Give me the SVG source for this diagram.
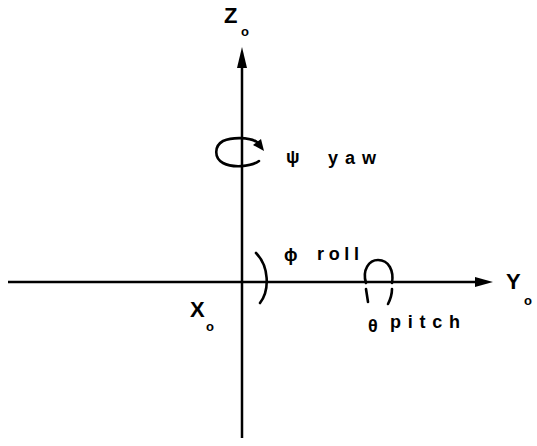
<svg xmlns="http://www.w3.org/2000/svg" width="537" height="446" viewBox="0 0 537 446">
<style>
.ax{stroke:#000;stroke-width:2.5;fill:none}
.rot{stroke:#000;stroke-width:2.6;fill:none;stroke-linecap:round}
text{font-family:"Liberation Sans",Arial,sans-serif;font-weight:bold;fill:#000}
.lb{font-size:22px}
.sub{font-size:13px}
.gr{font-size:18px}
.sm{font-size:18px}
</style>
<rect width="537" height="446" fill="#fff"/>
<g id="connectors">
<path class="ax" d="M242,438 L242,64"/>
<path d="M242,47 L237,68 L247,68 z" fill="#000"/>
<path class="ax" d="M8,282 L478,282"/>
<path d="M493,282 L475,277 L475,287 z" fill="#000"/>
</g>
<g id="zaxis-label">
<text class="lb" x="224" y="23">Z</text>
<text class="sub" x="241" y="36">o</text>
</g>
<g id="yaw">
<path class="rot" d="M259,161 C251,167 232,168 223,163 C214,158 214,146 223,141 C232,137 249,137 257,142"/>
<path d="M264,151 L253,145 L261,139 z" fill="#000"/>
<text class="gr" x="286" y="163">ψ</text>
<text class="sm" x="328" y="164" textLength="48" lengthAdjust="spacing">yaw</text>
</g>
<g id="roll">
<path class="rot" d="M256,253 C269,266 270,290 260,303"/>
<text class="gr" x="284" y="261">ϕ</text>
<text class="sm" x="317" y="260" textLength="42" lengthAdjust="spacing">roll</text>
</g>
<g id="pitch">
<path class="rot" d="M366,283 C362,270 369,260 378,260 C389,260 394,271 392,283"/>
<path class="rot" d="M366,289 L368,302"/>
<path class="rot" d="M392,289 C392,295 390,300 388,304"/>
<text class="gr" x="368" y="332">θ</text>
<text class="sm" x="390" y="328" textLength="70" lengthAdjust="spacing">pitch</text>
</g>
<g id="xaxis-label">
<text class="lb" x="190" y="317">X</text>
<text class="sub" x="206" y="331">o</text>
</g>
<g id="yaxis-label">
<text class="lb" x="506" y="289">Y</text>
<text class="sub" x="524" y="305">o</text>
</g>
</svg>
